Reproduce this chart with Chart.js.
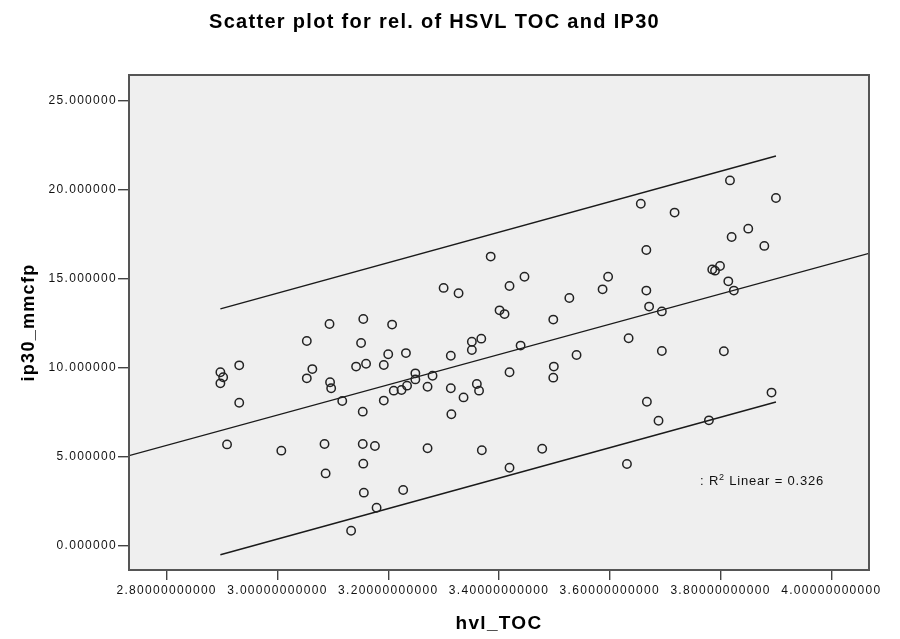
<!DOCTYPE html>
<html>
<head>
<meta charset="utf-8">
<title>Scatter plot for rel. of HSVL TOC and IP30</title>
<script src="https://cdn.jsdelivr.net/npm/chart.js@4.4.1/dist/chart.umd.min.js"></script>
<style>
  html, body { margin: 0; padding: 0; background: #ffffff; }
  #wrap { width: 900px; height: 639px; }
</style>
</head>
<body>
<div id="wrap"><canvas id="grafica" width="900" height="639"></canvas></div>
<script>
// valores
const hvlToc = [
    2.897, 2.902, 2.897, 2.931, 2.931, 2.909, 3.007, 3.053, 3.063, 3.053,
    3.094, 3.095, 3.097, 3.117, 3.085, 3.087, 3.155, 3.151, 3.142, 3.160,
    3.154, 3.154, 3.176, 3.155, 3.156, 3.179, 3.133, 3.207, 3.192, 3.200,
    3.192, 3.210, 3.224, 3.234, 3.232, 3.249, 3.249, 3.227, 3.271, 3.280,
    3.271, 3.300, 3.327, 3.313, 3.313, 3.314, 3.336, 3.351, 3.351, 3.368,
    3.360, 3.364, 3.369, 3.385, 3.401, 3.410, 3.419, 3.446, 3.419, 3.439,
    3.419, 3.478, 3.498, 3.499, 3.498, 3.527, 3.540, 3.587, 3.597, 3.631,
    3.634, 3.656, 3.666, 3.666, 3.671, 3.694, 3.694, 3.667, 3.688, 3.717,
    3.779, 3.785, 3.790, 3.799, 3.814, 3.824, 3.806, 3.817, 3.820, 3.850,
    3.879, 3.900, 3.892
];
const ip30 = [
    9.74, 9.46, 9.12, 10.13, 8.03, 5.69, 5.34, 11.50, 9.92, 9.40,
    12.45, 9.18, 8.84, 8.13, 5.71, 4.06, 12.73, 11.39, 10.06, 10.22,
    7.53, 5.71, 5.60, 4.61, 2.98, 2.13, 0.84, 12.42, 10.15, 10.75,
    8.15, 8.71, 8.75, 8.99, 10.82, 9.68, 9.34, 3.13, 8.93, 9.55,
    5.47, 14.48, 14.18, 10.67, 8.84, 7.38, 8.33, 11.46, 10.99, 11.63,
    9.08, 8.71, 5.36, 16.24, 13.22, 13.01, 14.59, 15.11, 9.74, 11.24,
    4.38, 5.45, 12.70, 10.06, 9.44, 13.91, 10.71, 14.40, 15.11, 4.59,
    11.65, 19.21, 16.61, 14.33, 13.43, 13.16, 10.94, 8.09, 7.02, 18.71,
    7.04, 15.52, 15.45, 15.71, 14.85, 14.33, 10.92, 20.52, 17.34, 17.81,
    16.84, 19.53, 8.60
];

// recta de ajuste y límites del intervalo
const ajusteX = [2.732, 4.068];
const ajusteY = [5.06, 16.42];
const superiorX = [2.897, 3.900];
const superiorY = [13.30, 21.89];
const inferiorX = [2.897, 3.900];
const inferiorY = [-0.51, 8.07];

const ticksX = [2.8, 3.0, 3.2, 3.4, 3.6, 3.8, 4.0];
const ticksY = [0, 5, 10, 15, 20, 25];

const rCuadrado = '0.326';

function puntos(xs, ys) {
    return xs.map((x, i) => ({ x: x, y: ys[i] }));
}

const fondoYMarco = {
    id: 'fondoYMarco',
    beforeDraw(chart) {
        const { ctx, chartArea: a } = chart;
        ctx.save();
        ctx.fillStyle = '#efefef';
        ctx.fillRect(a.left, a.top, a.right - a.left, a.bottom - a.top);
        ctx.restore();
        ctx.letterSpacing = '1.3px';
    },
    afterDatasetsDraw(chart) {
        const { ctx, chartArea: a, scales } = chart;
        ctx.save();
        ctx.strokeStyle = '#555';
        ctx.lineWidth = 2;
        ctx.strokeRect(a.left, a.top, a.right - a.left, a.bottom - a.top);

        // etiqueta R2
        const x0 = scales.x.getPixelForValue(3.763);
        const y0 = scales.y.getPixelForValue(3.41);
        ctx.letterSpacing = '0.8px';
        ctx.fillStyle = '#111';
        ctx.textBaseline = 'alphabetic';
        ctx.textAlign = 'left';
        ctx.font = '13px "Liberation Sans", Arial, sans-serif';
        let x = x0;
        ctx.fillText(': R', x, y0);
        x += ctx.measureText(': R').width;
        ctx.font = '9px "Liberation Sans", Arial, sans-serif';
        ctx.fillText('2', x, y0 - 5);
        x += ctx.measureText('2').width;
        ctx.font = '13px "Liberation Sans", Arial, sans-serif';
        ctx.fillText(' Linear = ' + rCuadrado, x, y0);
        ctx.restore();
    },
    afterDraw(chart) {
        chart.ctx.letterSpacing = '0px';
    }
};

function graficar() {
    const ctx = document.getElementById('grafica');

    new Chart(ctx.getContext('2d'), {
        type: 'scatter',
        data: {
            datasets: [
                {
                    label: 'ip30_mmcfp',
                    data: puntos(hvlToc, ip30),
                    pointRadius: 4.2,
                    pointBorderWidth: 1.5,
                    pointBorderColor: '#222',
                    pointBackgroundColor: 'rgba(0,0,0,0)',
                    pointHoverRadius: 4.2
                },
                {
                    label: 'Linear',
                    data: puntos(ajusteX, ajusteY),
                    showLine: true,
                    pointRadius: 0,
                    borderColor: '#1a1a1a',
                    borderWidth: 1.4
                },
                {
                    label: 'Upper',
                    data: puntos(superiorX, superiorY),
                    showLine: true,
                    pointRadius: 0,
                    borderColor: '#1a1a1a',
                    borderWidth: 1.4
                },
                {
                    label: 'Lower',
                    data: puntos(inferiorX, inferiorY),
                    showLine: true,
                    pointRadius: 0,
                    borderColor: '#1a1a1a',
                    borderWidth: 1.4
                }
            ]
        },
        options: {
            responsive: false,
            animation: false,
            layout: { padding: { left: 0, right: 31, top: 0, bottom: 0 } },
            plugins: {
                legend: { display: false },
                tooltip: { enabled: false },
                title: {
                    display: true,
                    text: 'Scatter plot for rel. of HSVL TOC and IP30',
                    color: '#000',
                    font: { family: '"Liberation Sans", Arial, sans-serif', size: 20, weight: 'bold' },
                    padding: { top: 10, bottom: 41 }
                }
            },
            scales: {
                x: {
                    type: 'linear',
                    min: 2.732,
                    max: 4.068,
                    afterBuildTicks: scale => { scale.ticks = ticksX.map(v => ({ value: v })); },
                    afterFit: scale => { scale.height = 69; },
                    grid: { drawOnChartArea: false, drawTicks: true, tickLength: 10, color: '#444', lineWidth: 1.4 },
                    border: { display: false },
                    ticks: {
                        padding: 3,
                        maxRotation: 0,
                        autoSkip: false,
                        color: '#111',
                        font: { family: '"Liberation Sans", Arial, sans-serif', size: 12 },
                        callback: v => Number(v).toFixed(11)
                    },
                    title: {
                        display: true,
                        text: 'hvl_TOC',
                        color: '#000',
                        font: { family: '"Liberation Sans", Arial, sans-serif', size: 19, weight: 'bold' },
                        padding: { top: 0, bottom: 4 }
                    }
                },
                y: {
                    type: 'linear',
                    min: -1.365,
                    max: 26.44,
                    afterBuildTicks: scale => { scale.ticks = ticksY.map(v => ({ value: v })); },
                    afterFit: scale => { scale.width = 129; },
                    grid: { drawOnChartArea: false, drawTicks: true, tickLength: 11, color: '#444', lineWidth: 1.4 },
                    border: { display: false },
                    ticks: {
                        padding: 1,
                        autoSkip: false,
                        color: '#111',
                        font: { family: '"Liberation Sans", Arial, sans-serif', size: 12 },
                        callback: v => Number(v).toFixed(6)
                    },
                    title: {
                        display: true,
                        text: 'ip30_mmcfp',
                        color: '#000',
                        font: { family: '"Liberation Sans", Arial, sans-serif', size: 18, weight: 'bold' },
                        padding: { top: 18, bottom: 0 }
                    }
                }
            }
        },
        plugins: [fondoYMarco]
    });
}

graficar();
</script>
</body>
</html>
